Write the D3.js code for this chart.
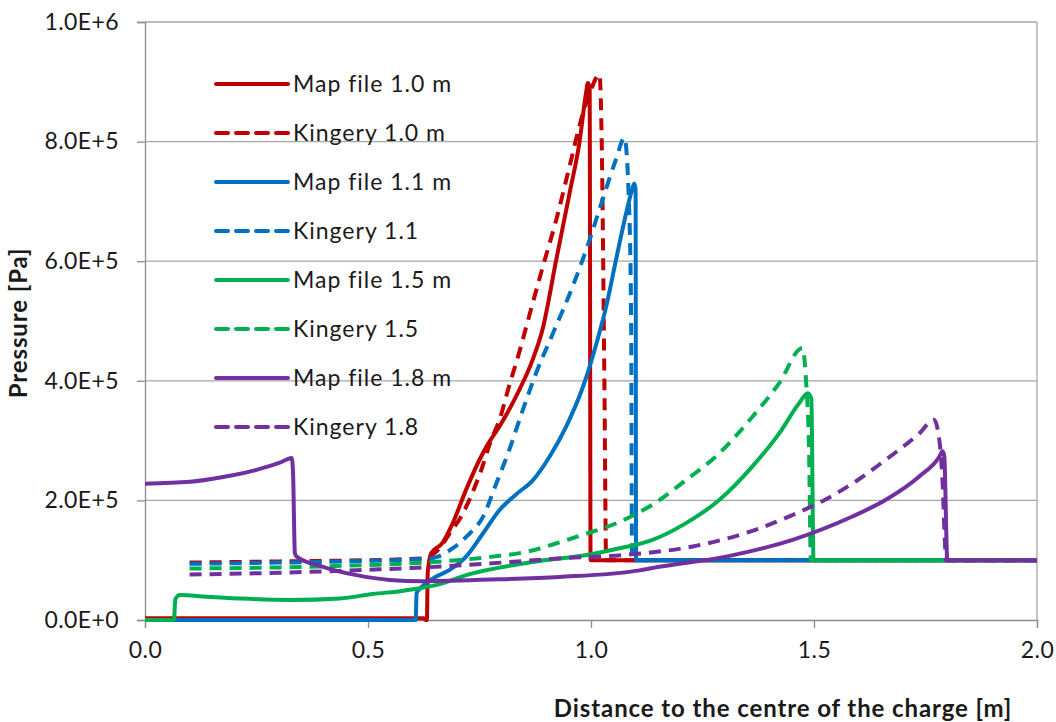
<!DOCTYPE html>
<html>
<head>
<meta charset="utf-8">
<script src="https://cdn.jsdelivr.net/npm/d3@7"></script>
<style>
  html, body { margin: 0; padding: 0; background: #fff; }
  svg { display: block; font-family: Lato, "Open Sans", sans-serif; }
</style>
</head>
<body>
<svg id="chart" width="1056" height="722"></svg>
<script>
// series names (legend order)
const seriesNames = [
  'Map file 1.0 m', 'Kingery 1.0 m',
  'Map file 1.1 m', 'Kingery 1.1',
  'Map file 1.5 m', 'Kingery 1.5',
  'Map file 1.8 m', 'Kingery 1.8'
];

// [distance m, pressure Pa]
const mapFile10 = [[0, 3000], [0.625, 3000], [0.629, 0], [0.632, 0], [0.634, 8.0e4], [0.642, 1.12e5],
  [0.667, 1.29e5], [0.69, 1.62e5], [0.72, 2.18e5], [0.75, 2.68e5], [0.768, 2.93e5], [0.795, 3.24e5],
  [0.832, 3.74e5], [0.869, 4.35e5], [0.891, 4.85e5], [0.922, 6.02e5], [0.952, 7.14e5], [0.974, 7.98e5],
  [0.989, 8.82e5], [0.993, 8.98e5], [0.997, 8.9e5], [0.999, 1.0e5], [2.0, 1.0e5]];
const kingery10 = [[0.1, 9.6e4], [0.3, 9.8e4], [0.5, 1.0e5], [0.62, 1.03e5], [0.653, 1.14e5], [0.668, 1.28e5],
  [0.683, 1.45e5], [0.709, 1.73e5], [0.732, 2.09e5], [0.754, 2.51e5], [0.776, 3.01e5], [0.795, 3.35e5],
  [0.814, 3.85e5], [0.84, 4.5e5], [0.862, 5.1e5], [0.892, 5.91e5], [0.922, 6.69e5], [0.952, 7.59e5],
  [0.978, 8.37e5], [1.0, 8.87e5], [1.019, 9.12e5], [1.024, 8.0e5], [1.03, 4.0e5], [1.034, 1.0e5], [2.0, 1.0e5]];
const mapFile11 = [[0, 0], [0.607, 0], [0.609, 4.5e4], [0.62, 5.5e4], [0.646, 6.97e4], [0.683, 8.37e4],
  [0.72, 1.06e5], [0.758, 1.45e5], [0.795, 1.84e5], [0.832, 2.1e5], [0.87, 2.34e5], [0.907, 2.73e5],
  [0.944, 3.23e5], [0.982, 3.9e5], [1.015, 4.7e5], [1.034, 5.24e5], [1.056, 6.02e5], [1.079, 6.81e5],
  [1.09, 7.14e5], [1.097, 7.3e5], [1.1, 7.2e5], [1.101, 1.0e5], [2.0, 1.0e5]];
const kingery11 = [[0.1, 9.4e4], [0.3, 9.6e4], [0.5, 9.9e4], [0.64, 1.03e5], [0.657, 1.06e5], [0.69, 1.2e5],
  [0.72, 1.39e5], [0.758, 1.73e5], [0.788, 2.29e5], [0.817, 2.85e5], [0.847, 3.51e5], [0.877, 4.13e5],
  [0.915, 4.8e5], [0.959, 5.58e5], [0.997, 6.36e5], [1.026, 7.03e5], [1.056, 7.7e5], [1.075, 8.06e5],
  [1.085, 7.0e5], [1.09, 5.0e5], [1.092, 1.0e5], [2.0, 1.0e5]];
const mapFile15 = [[0, 0], [0.065, 0], [0.068, 3.5e4], [0.078, 4.2e4], [0.138, 3.9e4], [0.213, 3.6e4],
  [0.325, 3.35e4], [0.437, 3.6e4], [0.511, 4.35e4], [0.58, 4.9e4], [0.661, 6.0e4], [0.72, 7.5e4],
  [0.87, 9.7e4], [1.0, 1.1e5], [1.064, 1.2e5], [1.138, 1.34e5], [1.213, 1.62e5], [1.288, 2.01e5],
  [1.362, 2.57e5], [1.422, 3.12e5], [1.467, 3.63e5], [1.486, 3.79e5], [1.494, 3.7e5], [1.499, 1.0e5], [2.0, 1.0e5]];
const kingery15 = [[0.1, 8.6e4], [0.3, 8.8e4], [0.5, 9.2e4], [0.6, 9.5e4], [0.7, 1.0e5], [0.78, 1.06e5],
  [0.855, 1.14e5], [0.93, 1.3e5], [0.98, 1.42e5], [1.03, 1.54e5], [1.064, 1.64e5], [1.1, 1.77e5],
  [1.138, 1.93e5], [1.213, 2.34e5], [1.288, 2.79e5], [1.362, 3.4e5], [1.422, 3.96e5], [1.474, 4.55e5],
  [1.482, 4.02e5], [1.489, 2.79e5], [1.493, 1.0e5], [2.0, 1.0e5]];
const mapFile18 = [[0, 2.28e5], [0.101, 2.31e5], [0.175, 2.39e5], [0.25, 2.51e5], [0.302, 2.63e5],
  [0.329, 2.71e5], [0.332, 2.45e5], [0.336, 1.12e5], [0.34, 1.06e5], [0.399, 8.9e4], [0.474, 7.5e4],
  [0.549, 6.7e4], [0.623, 6.5e4], [0.795, 6.8e4], [0.929, 7.2e4], [1.109, 8.3e4], [1.153, 8.9e4],
  [1.303, 1.06e5], [1.452, 1.34e5], [1.586, 1.73e5], [1.661, 2.01e5], [1.736, 2.4e5], [1.781, 2.73e5],
  [1.788, 2.82e5], [1.792, 2.75e5], [1.799, 1.0e5], [2.0, 1.0e5]];
const kingery18 = [[0.1, 7.6e4], [0.3, 7.9e4], [0.5, 8.4e4], [0.6, 8.7e4], [0.8, 9.6e4], [0.929, 1.03e5],
  [1.079, 1.09e5], [1.228, 1.23e5], [1.377, 1.53e5], [1.45, 1.75e5], [1.527, 2.02e5], [1.6, 2.35e5],
  [1.661, 2.68e5], [1.736, 3.12e5], [1.769, 3.35e5], [1.781, 3.01e5], [1.788, 2.34e5], [1.794, 1.23e5],
  [1.796, 1.0e5], [2.0, 1.0e5]];

const seriesValues = [mapFile10, kingery10, mapFile11, kingery11, mapFile15, kingery15, mapFile18, kingery18];

// axes
const xTicks = [0, 0.5, 1.0, 1.5, 2.0];
const xTickLabels = ['0.0', '0.5', '1.0', '1.5', '2.0'];
const yTicks = [0, 2e5, 4e5, 6e5, 8e5, 1e6];
const yTickLabels = ['0.0E+0', '2.0E+5', '4.0E+5', '6.0E+5', '8.0E+5', '1.0E+6'];

// styling
const colors = ['#C00000', '#C00000', '#0070C0', '#0070C0', '#00B050', '#00B050', '#7030A0', '#7030A0'];
const dashed = [false, true, false, true, false, true, false, true];

const svg = d3.select('#chart');
const margin = { left: 145, right: 1037, top: 22, bottom: 620 };

const x = d3.scaleLinear().domain([0, 2]).range([margin.left, margin.right]);
const y = d3.scaleLinear().domain([0, 1e6]).range([margin.bottom, margin.top]);

// gridlines
svg.append('g')
  .selectAll('line')
  .data(yTicks.slice(1))
  .enter()
  .append('line')
  .attr('x1', margin.left)
  .attr('x2', margin.right)
  .attr('y1', (d) => y(d))
  .attr('y2', (d) => y(d))
  .attr('stroke', '#a6a6a6')
  .attr('stroke-width', 1.3);

// right border of plot area
svg.append('line')
  .attr('x1', margin.right).attr('x2', margin.right)
  .attr('y1', margin.top).attr('y2', margin.bottom)
  .attr('stroke', '#a6a6a6')
  .attr('stroke-width', 1.3);

// y axis
const yAxis = svg.append('g')
  .attr('transform', `translate(${margin.left},0)`)
  .call(d3.axisLeft(y).tickValues(yTicks).tickFormat((d, i) => yTickLabels[i]).tickSize(8).tickPadding(18));

// x axis
const xAxis = svg.append('g')
  .attr('transform', `translate(0,${margin.bottom})`)
  .call(d3.axisBottom(x).tickValues(xTicks).tickFormat((d, i) => xTickLabels[i]).tickSize(8).tickPadding(14));

[yAxis, xAxis].forEach((ax) => {
  ax.select('.domain').attr('stroke', '#8c8c8c').attr('stroke-width', 1.3);
  ax.selectAll('.tick line').attr('stroke', '#8c8c8c').attr('stroke-width', 1.3);
  ax.selectAll('.tick text')
    .attr('font-family', 'Lato, sans-serif')
    .attr('font-size', 23)
    .attr('letter-spacing', 0.4)
    .attr('fill', '#1a1a1a');
});

// series lines
const line = d3.line()
  .x((d) => x(d[0]))
  .y((d) => y(d[1]))
  .curve(d3.curveMonotoneX);

svg.append('g')
  .selectAll('path')
  .data(seriesValues)
  .enter()
  .append('path')
  .attr('d', line)
  .attr('fill', 'none')
  .attr('stroke', (d, i) => colors[i])
  .attr('stroke-width', 4)
  .attr('stroke-linejoin', 'round')
  .attr('stroke-dasharray', (d, i) => (dashed[i] ? '12,8' : null));

// legend
const legend = svg.append('g');
const legendRows = legend.selectAll('g')
  .data(seriesNames)
  .enter()
  .append('g')
  .attr('transform', (d, i) => `translate(216,${84 + i * 49})`);

legendRows.append('line')
  .attr('x1', 0)
  .attr('x2', 72)
  .attr('stroke', (d, i) => colors[i])
  .attr('stroke-width', 4)
  .attr('stroke-linecap', 'round')
  .attr('stroke-dasharray', (d, i) => (dashed[i] ? '12,8' : null));

legendRows.append('text')
  .attr('x', 77)
  .attr('dy', '0.35em')
  .attr('font-size', 23)
  .attr('letter-spacing', 1)
  .attr('fill', '#1a1a1a')
  .text((d) => d);

// axis titles
svg.append('text')
  .attr('x', 783)
  .attr('y', 717)
  .attr('text-anchor', 'middle')
  .attr('font-weight', 'bold')
  .attr('font-size', 24)
  .attr('letter-spacing', 0.9)
  .attr('fill', '#1a1a1a')
  .text('Distance to the centre of the charge [m]');

svg.append('text')
  .attr('transform', 'translate(27,323) rotate(-90)')
  .attr('text-anchor', 'middle')
  .attr('font-weight', 'bold')
  .attr('font-size', 24)
  .attr('letter-spacing', 0.9)
  .attr('fill', '#1a1a1a')
  .text('Pressure [Pa]');
</script>
</body>
</html>
